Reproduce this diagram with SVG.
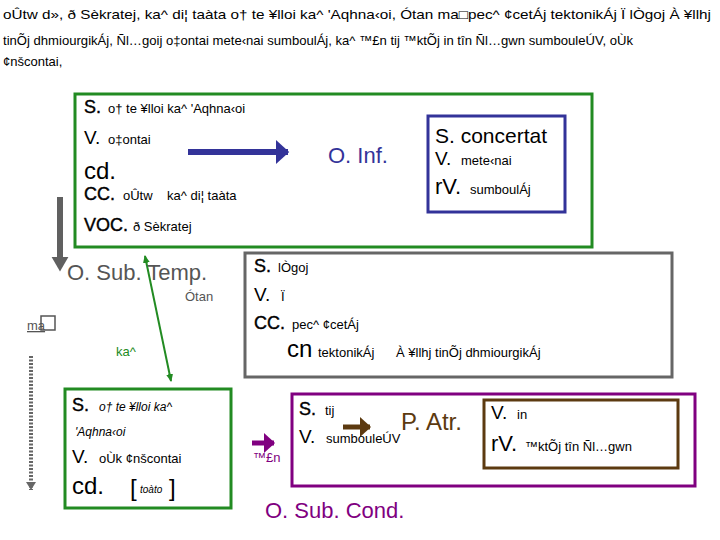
<svg xmlns="http://www.w3.org/2000/svg" width="720" height="540" viewBox="0 0 720 540">
<style>
text{font-family:"Liberation Sans",Arial,sans-serif;fill:#000;white-space:pre}
.g{font-size:13px}
.sm{font-size:13px}
.it{font-size:12px;font-style:italic}
.lb{font-size:19px}
.lbb{font-size:18px;stroke:#000;stroke-width:0.4}
.big{font-size:24px}
.box{fill:none;stroke-width:3}
</style>
<defs>
<marker id="ahBlue" markerWidth="4" markerHeight="4" refX="2" refY="2" orient="auto" markerUnits="strokeWidth"><path d="M0,0 L2.2,2 L0,4 Z" fill="#333399"/></marker>
<marker id="ahGray" markerWidth="4" markerHeight="4" refX="1.5" refY="2" orient="auto" markerUnits="strokeWidth"><path d="M0,0.6 L2.4,2 L0,3.4 Z" fill="#606060"/></marker>
<marker id="ahGreen" markerWidth="8" markerHeight="8" refX="7" refY="4" orient="auto-start-reverse" markerUnits="userSpaceOnUse"><path d="M0,0.5 L8,4 L0,7.5 Z" fill="#228b22"/></marker>
<marker id="ahDot" markerWidth="10" markerHeight="8" refX="5" refY="8" orient="0" markerUnits="userSpaceOnUse"><path d="M0,0 L10,0 L5,8 Z" fill="#666"/></marker>
<marker id="ahPurple" markerWidth="4" markerHeight="4" refX="2" refY="2" orient="auto" markerUnits="strokeWidth"><path d="M0,0 L2.2,2 L0,4 Z" fill="#800080"/></marker>
<marker id="ahBrown" markerWidth="4" markerHeight="4" refX="2" refY="2" orient="auto" markerUnits="strokeWidth"><path d="M0,0 L2.2,2 L0,4 Z" fill="#5c3a10"/></marker>
</defs>

<g id="intro">
<text class="g" x="3" y="19" textLength="708" lengthAdjust="spacingAndGlyphs">oÛtw d», ð Sèkratej, ka^ di¦ taàta o† te ¥lloi ka^ 'Aqhna‹oi, Ótan ma□pec^ ¢cetÁj tektonikÁj Ï lÒgoj À ¥llhj</text>
<text class="g" x="3" y="45" textLength="630" lengthAdjust="spacingAndGlyphs">tinÕj dhmiourgikÁj, Ñl…goij o‡ontai mete‹nai sumboulÁj, ka^ ™£n tij ™ktÕj in tîn Ñl…gwn sumbouleÚV, oÙk</text>
<text class="g" x="3" y="66">¢nšcontai,</text>
</g>

<g id="connectors">
<line x1="188" y1="152" x2="288" y2="152" stroke="#333399" stroke-width="6" marker-end="url(#ahBlue)"/>
<line x1="60" y1="197" x2="60" y2="266" stroke="#606060" stroke-width="6" marker-end="url(#ahGray)"/>
<line x1="145" y1="256" x2="171" y2="381" stroke="#228b22" stroke-width="2" marker-start="url(#ahGreen)" marker-end="url(#ahGreen)"/>
<line x1="31" y1="356" x2="31" y2="490" stroke="#666" stroke-width="4" stroke-dasharray="2,1.5" marker-end="url(#ahDot)"/>
<line x1="252" y1="443" x2="274" y2="443" stroke="#800080" stroke-width="5" marker-end="url(#ahPurple)"/>
<line x1="343" y1="427" x2="370" y2="427" stroke="#5c3a10" stroke-width="5" marker-end="url(#ahBrown)"/>
</g>

<g id="main-clause">
<rect class="box" x="75" y="94" width="517" height="153" stroke="#228b22"/>
<text class="lbb" x="84" y="113">S.</text><text class="sm" x="108" y="113">o† te ¥lloi ka^ 'Aqhna‹oi</text>
<text class="lb" x="84" y="144">V.</text><text class="sm" x="108" y="144">o‡ontai</text>
<text class="big" x="84" y="179">cd.</text>
<text class="lbb" x="84" y="200">CC.</text><text class="sm" x="123" y="200">oÛtw    ka^ di¦ taàta</text>
<text class="lbb" x="84" y="231">VOC.</text><text class="sm" x="133" y="231">ð Sèkratej</text>
</g>

<g id="inf-label">
<text x="328" y="163" style="font-size:22px;fill:#333399">O. Inf.</text>
</g>

<g id="inf-clause">
<rect class="box" x="428" y="116" width="137" height="96" stroke="#333399"/>
<text x="435" y="143" style="font-size:21px">S. concertat</text>
<text class="lb" x="435" y="165">V.</text><text class="sm" x="461" y="165">mete‹nai</text>
<text x="435" y="194" style="font-size:22px">rV.</text><text class="sm" x="470" y="194">sumboulÁj</text>
</g>

<g id="temp-label">
<text x="67" y="280" style="font-size:22px;fill:#555">O. Sub. Temp.</text>
<text class="sm" x="185" y="301" style="fill:#555">Ótan</text>
<text class="sm" x="27" y="330" style="fill:#555;text-decoration:underline">ma</text>
<rect x="41" y="316" width="14" height="14" fill="none" stroke="#555" stroke-width="1.5"/>
<text class="sm" x="116" y="356" style="fill:#228b22">ka^</text>
</g>

<g id="temp-clause">
<rect class="box" x="245" y="253" width="427" height="124" stroke="#666"/>
<text class="lbb" x="254" y="272">S.</text><text class="sm" x="278" y="272">lÒgoj</text>
<text class="lb" x="254" y="301">V.</text><text class="sm" x="281" y="301">Ï</text>
<text class="lbb" x="254" y="329">CC.</text><text class="sm" x="292" y="329">pec^ ¢cetÁj</text>
<text class="big" x="287" y="357">cn</text><text class="sm" x="318" y="357">tektonikÁj      À ¥llhj tinÕj dhmiourgikÁj</text>
</g>

<g id="main2-clause">
<rect class="box" x="65" y="389" width="166" height="119" stroke="#228b22"/>
<text class="lbb" x="72" y="411">S.</text><text class="it" x="99" y="411">o† te ¥lloi ka^</text>
<text class="it" x="75" y="436">'Aqhna‹oi</text>
<text class="lb" x="72" y="463">V.</text><text class="sm" x="99" y="463">oÙk ¢nšcontai</text>
<text class="big" x="72" y="494">cd.</text><text x="130" y="496" style="font-size:24px">[</text><text class="it" x="140" y="493" style="font-size:10px">toàto</text><text x="169" y="496" style="font-size:24px">]</text>
</g>

<g id="cond-clause">
<rect class="box" x="292" y="394" width="403" height="92" stroke="#800080"/>
<text class="sm" x="253" y="462" style="fill:#800080">™£n</text>
<text class="lbb" x="299" y="415">S.</text><text class="sm" x="325" y="415">tij</text>
<text class="lb" x="299" y="443">V.</text><text class="sm" x="326" y="443">sumbouleÚV</text>
<text x="401" y="430" style="font-size:24px;fill:#5c3a10">P. Atr.</text>
<text x="265" y="518" style="font-size:22px;fill:#800080">O. Sub. Cond.</text>
</g>

<g id="atr-clause">
<rect class="box" x="484" y="400" width="194" height="68" stroke="#5c3a10"/>
<text class="lb" x="491" y="419">V.</text><text class="sm" x="517" y="419">in</text>
<text x="491" y="451" style="font-size:22px">rV.</text><text class="sm" x="525" y="451">™ktÕj tîn Ñl…gwn</text>
</g>
</svg>
